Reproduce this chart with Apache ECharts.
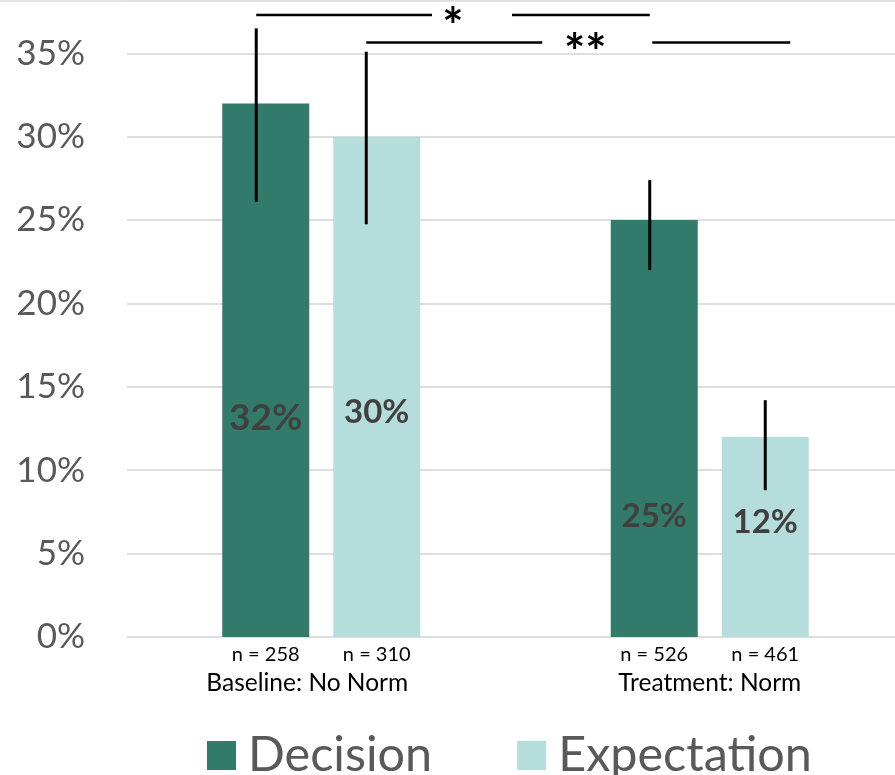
<!DOCTYPE html>
<html>
<head>
<meta charset="utf-8">
<script src="https://cdn.jsdelivr.net/npm/echarts@6/dist/echarts.min.js"></script>
<style>
  html, body { margin: 0; padding: 0; background: #ffffff; overflow: hidden; }
  /* the plot area runs slightly past the right edge of the window */
  #chart { width: 904px; height: 775px; }
</style>
</head>
<body>
<div id="chart"></div>
<script>
// ---- data ----
const categories = ['Baseline: No Norm', 'Treatment: Norm'];
const seriesNames = ['Decision', 'Expectation'];
const decisionValues = [32, 25];
const expectationValues = [30, 12];
const decisionCILow = [26.1, 22.0];
const decisionCIHigh = [36.5, 27.4];
const expectationCILow = [24.75, 8.8];
const expectationCIHigh = [35.1, 14.2];
const decisionN = [258, 526];
const expectationN = [310, 461];
const yTickValues = [0, 5, 10, 15, 20, 25, 30, 35];
// significance brackets: from (category, series) to (category, series), height in %, marker
const bracketFromCategory = [0, 0];
const bracketFromSeries = [0, 1];
const bracketToCategory = [1, 1];
const bracketToSeries = [0, 1];
const bracketLevel = [37.3, 35.65];
const bracketMarker = ['*', '**'];

// ---- styling / layout ----
const COLORS = ['#327a6a', '#b5dddc'];
const FONT = 'Lato';
const BAR_W = 87;
const BAR_GAP = '27.6%';
// value label anchor inside each bar (fraction of bar height from top)
const labelAnchor = [['59%', '71%'], ['55%', '42.5%']];
const labelSize = [[37, 33], [33, 33]];
// error bars sit a little left of the bar centre (px, per series / category)
const errorBarNudge = [[-9.5, -4.5], [-10.5, 0]];
// category label padding (nudges the first label a little to the left)
const categoryLabelPadding = [[0, 28, 0, 0], [0, 0, 0, 0]];
// bracket line geometry around the marker (px)
const bracketGeom = [
  { extendRight: 0, textShift: 0, gapLeft: 21, gapRight: 59, textDy: 13 },
  { extendRight: 25, textShift: 7, gapLeft: 43, gapRight: 67, textDy: 11 }
];

const valuesBySeries = [decisionValues, expectationValues];
const ciLowBySeries = [decisionCILow, expectationCILow];
const ciHighBySeries = [decisionCIHigh, expectationCIHigh];
const nBySeries = [decisionN, expectationN];

function barLayoutOf(api) {
  return api.barLayout({ count: 2, barWidth: BAR_W, barGap: BAR_GAP });
}

// x position of the error bar for a series at a category
function errorBarX(api, seriesIdx, cat, yVal) {
  const layout = barLayoutOf(api);
  return api.coord([cat, yVal])[0] + layout[seriesIdx].offsetCenter + errorBarNudge[seriesIdx][cat];
}

function barSeries(idx) {
  return {
    name: seriesNames[idx],
    type: 'bar',
    barWidth: BAR_W,
    barGap: BAR_GAP,
    itemStyle: { color: COLORS[idx] },
    z: 2,
    data: valuesBySeries[idx].map((v, i) => ({
      value: v,
      label: {
        show: true,
        position: ['50%', labelAnchor[idx][i]],
        align: 'center',
        verticalAlign: 'middle',
        formatter: (p) => p.value + '%',
        fontFamily: FONT,
        fontWeight: 'bold',
        fontSize: labelSize[idx][i],
        color: '#404040'
      }
    }))
  };
}

function errorBarSeries(idx) {
  return {
    name: seriesNames[idx] + ' CI',
    type: 'custom',
    silent: true,
    z: 5,
    data: categories.map((c, i) => [i, ciLowBySeries[idx][i], ciHighBySeries[idx][i]]),
    encode: { x: 0, y: [1, 2] },
    renderItem(params, api) {
      const cat = api.value(0);
      const hi = api.coord([cat, api.value(2)]);
      const lo = api.coord([cat, api.value(1)]);
      const x = errorBarX(api, idx, cat, api.value(2));
      return {
        type: 'line',
        shape: { x1: x, y1: hi[1], x2: x, y2: lo[1] },
        style: { stroke: '#000000', lineWidth: 3 }
      };
    }
  };
}

function sampleSizeSeries(idx) {
  return {
    name: seriesNames[idx] + ' n',
    type: 'custom',
    silent: true,
    data: categories.map((c, i) => [i, 0, nBySeries[idx][i]]),
    encode: { x: 0, y: 1 },
    renderItem(params, api) {
      const layout = barLayoutOf(api);
      const pt = api.coord([api.value(0), 0]);
      return {
        type: 'text',
        style: {
          x: pt[0] + layout[idx].offsetCenter,
          y: pt[1] + 18,
          text: 'n = ' + api.value(2),
          align: 'center',
          verticalAlign: 'middle',
          fontFamily: FONT,
          fontSize: 20,
          fill: '#000000'
        }
      };
    }
  };
}

const bracketSeries = {
  name: 'significance',
  type: 'custom',
  silent: true,
  z: 6,
  data: bracketLevel.map((lv, i) => [bracketFromCategory[i], bracketToCategory[i], lv]),
  encode: { x: [0, 1], y: 2 },
  renderItem(params, api) {
    const i = params.dataIndex;
    const g = bracketGeom[i];
    const y = api.coord([api.value(0), api.value(2)])[1];
    const x0 = errorBarX(api, bracketFromSeries[i], api.value(0), api.value(2));
    const x1 = errorBarX(api, bracketToSeries[i], api.value(1), api.value(2)) + g.extendRight;
    const tx = (x0 + x1) / 2 + g.textShift;
    const lineStyle = { stroke: '#000000', lineWidth: 2.5 };
    return {
      type: 'group',
      children: [
        { type: 'line', shape: { x1: x0, y1: y, x2: tx - g.gapLeft, y2: y }, style: lineStyle },
        { type: 'line', shape: { x1: tx + g.gapRight, y1: y, x2: x1, y2: y }, style: lineStyle },
        {
          type: 'text',
          style: {
            x: tx, y: y + g.textDy,
            text: bracketMarker[i],
            align: 'center',
            verticalAlign: 'middle',
            fontFamily: FONT,
            fontWeight: 'bold',
            fontSize: 50,
            fill: '#000000'
          }
        }
      ]
    };
  }
};

const chart = echarts.init(document.getElementById('chart'), null, { renderer: 'canvas' });
chart.setOption({
  animation: false,
  backgroundColor: '#ffffff',
  // thin grey rule along the top edge
  graphic: [{
    type: 'rect',
    left: 0, top: 0,
    shape: { width: 904, height: 2 },
    style: { fill: '#e4e4e4' },
    silent: true
  }],
  grid: { left: 127, top: 0, right: 0, height: 637, containLabel: false },
  legend: {
    data: seriesNames,
    left: 202,
    top: 726,
    icon: 'rect',
    itemWidth: 29,
    itemHeight: 29,
    itemGap: 85,
    textStyle: { fontFamily: FONT, fontSize: 48.5, lineHeight: 48, color: '#595959', padding: [0, 0, 0, 7] }
  },
  xAxis: {
    type: 'category',
    data: categories.map((c, i) => ({ value: c, textStyle: { padding: categoryLabelPadding[i] } })),
    axisLine: { show: false },
    axisTick: { show: false },
    axisLabel: { margin: 34, fontFamily: FONT, fontSize: 24.5, color: '#000000' }
  },
  yAxis: {
    type: 'value',
    min: 0,
    max: 38.2,
    interval: 5,
    axisLine: { show: false },
    axisTick: { show: false },
    splitLine: { lineStyle: { color: '#dedede', width: 2 } },
    axisLabel: {
      margin: 42,
      fontFamily: FONT,
      fontSize: 35,
      color: '#595959',
      formatter: (v) => (yTickValues.indexOf(v) >= 0 ? v + '%' : '')
    }
  },
  series: [
    barSeries(0),
    barSeries(1),
    errorBarSeries(0),
    errorBarSeries(1),
    sampleSizeSeries(0),
    sampleSizeSeries(1),
    bracketSeries
  ]
});
</script>
</body>
</html>
